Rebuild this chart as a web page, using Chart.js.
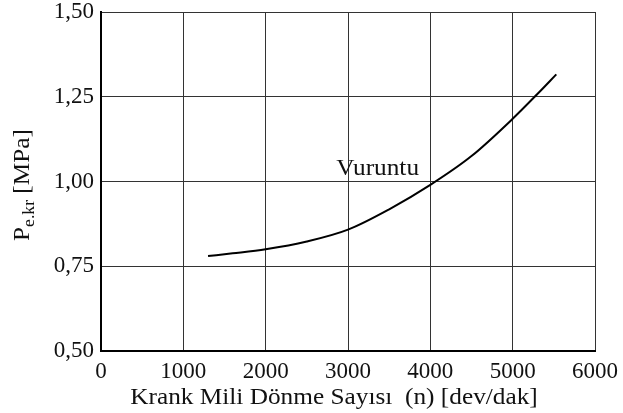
<!DOCTYPE html>
<html>
<head>
<meta charset="utf-8">
<script src="https://cdn.jsdelivr.net/npm/chart.js@4/dist/chart.umd.min.js"></script>
<style>
  html, body { margin: 0; padding: 0; background: #fff; }
  #wrap { width: 623px; height: 413px; }
</style>
</head>
<body>
<div id="wrap"><canvas id="chart" width="623" height="413"></canvas></div>
<script>
// engine speed (rpm) and critical mean effective pressure (MPa)
const speeds = [1300, 1600, 2000, 2500, 3000, 3500, 4000, 4500, 5000, 5300, 5530];
const pressures = [0.780, 0.788, 0.800, 0.823, 0.858, 0.918, 0.990, 1.075, 1.185, 1.258, 1.316];

const xTicks = [0, 1000, 2000, 3000, 4000, 5000, 6000];
const yTicks = [0.50, 0.75, 1.00, 1.25, 1.50];

const curveLabel = 'Vuruntu';
const labelPos = { x: 3360, y: 1.018 };
const xTitle = 'Krank Mili Dönme Sayısı  (n) [dev/dak]';
const yTitle = { main: 'P', sub: 'e.kr', unit: ' [MPa]' };

const serif = "'Liberation Serif', 'DejaVu Serif', serif";
const stretch = 1.1; // the lettering is a little wide

const points = speeds.map((s, i) => ({ x: s, y: pressures[i] }));

// writes text centred at (cx, baseline), widened horizontally
function wideText(ctx, text, cx, by) {
  ctx.save();
  ctx.translate(cx, by);
  ctx.scale(stretch, 1);
  ctx.textAlign = 'center';
  ctx.fillText(text, 0, 0);
  ctx.restore();
}

// draws the curve label and both axis titles
const textPlugin = {
  id: 'texts',
  afterDraw(chart) {
    const ctx = chart.ctx;
    const xs = chart.scales.x, ys = chart.scales.y;
    ctx.save();
    ctx.fillStyle = '#111';
    ctx.textBaseline = 'alphabetic';

    // curve label
    ctx.font = '23px ' + serif;
    wideText(ctx, curveLabel, xs.getPixelForValue(labelPos.x), ys.getPixelForValue(labelPos.y));

    // x title
    wideText(ctx, xTitle, 334, 404);

    // y title, rotated, with subscript
    ctx.translate(29, 185);
    ctx.rotate(-Math.PI / 2);
    ctx.scale(stretch, 1);
    ctx.textAlign = 'left';
    ctx.font = '23px ' + serif;
    const wMain = ctx.measureText(yTitle.main).width;
    const wUnit = ctx.measureText(yTitle.unit).width;
    ctx.font = '16px ' + serif;
    const wSub = ctx.measureText(yTitle.sub).width;
    const x0 = -(wMain + wSub + wUnit) / 2;
    ctx.font = '23px ' + serif;
    ctx.fillText(yTitle.main, x0, 0);
    ctx.font = '16px ' + serif;
    ctx.fillText(yTitle.sub, x0 + wMain, 5);
    ctx.font = '23px ' + serif;
    ctx.fillText(yTitle.unit, x0 + wMain + wSub, 0);
    ctx.restore();
  }
};

new Chart(document.getElementById('chart'), {
  type: 'line',
  data: {
    datasets: [{
      data: points,
      borderColor: '#000',
      borderWidth: 2,
      pointRadius: 0,
      fill: false,
      cubicInterpolationMode: 'monotone'
    }]
  },
  options: {
    responsive: false,
    animation: false,
    layout: { padding: { left: 0, right: 28, top: 12, bottom: 0 } },
    plugins: { legend: { display: false }, tooltip: { enabled: false } },
    scales: {
      x: {
        type: 'linear',
        min: 0,
        max: 6000,
        afterBuildTicks: (scale) => { scale.ticks = xTicks.map(v => ({ value: v })); },
        afterFit: (scale) => {
          scale.height = 62;
          scale.paddingLeft = 0;
          scale.paddingRight = 0;
        },
        grid: { color: '#333', lineWidth: 1, drawTicks: false },
        border: { color: '#000', width: 2 },
        ticks: {
          color: '#111',
          padding: 7,
          maxRotation: 0,
          font: { family: serif, size: 23 },
          callback: (v) => String(v)
        }
      },
      y: {
        type: 'linear',
        min: 0.5,
        max: 1.5,
        afterBuildTicks: (scale) => { scale.ticks = yTicks.map(v => ({ value: v })); },
        afterFit: (scale) => {
          scale.width = 101;
          scale.paddingTop = 0;
          scale.paddingBottom = 0;
        },
        grid: { color: '#333', lineWidth: 1, drawTicks: false },
        border: { color: '#000', width: 2 },
        ticks: {
          color: '#111',
          padding: 7,
          font: { family: serif, size: 23 },
          callback: (v) => v.toFixed(2).replace('.', ',')
        }
      }
    }
  },
  plugins: [textPlugin]
});
</script>
</body>
</html>
